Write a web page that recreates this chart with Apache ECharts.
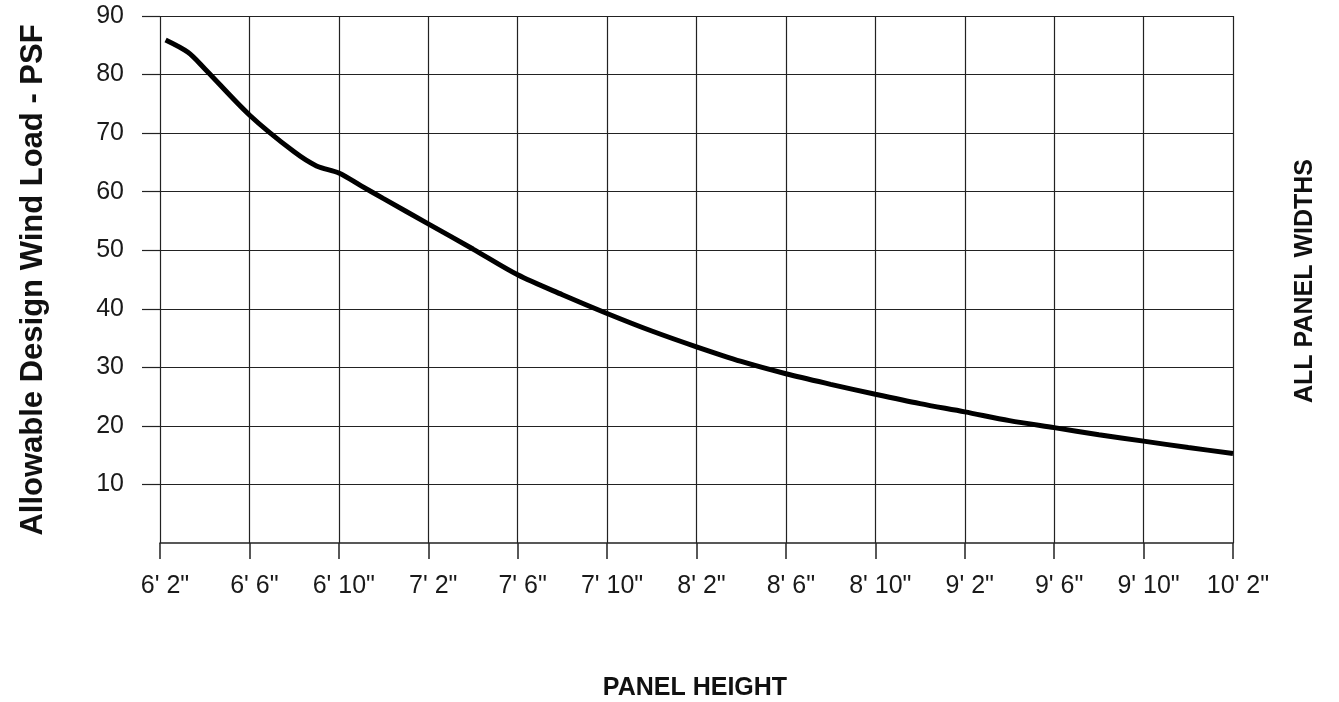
<!DOCTYPE html>
<html>
<head>
<meta charset="utf-8">
<script src="https://cdn.jsdelivr.net/npm/echarts@6/dist/echarts.min.js"></script>
<style>
  html, body { margin: 0; padding: 0; background: #fff; }
  #chart { width: 1339px; height: 702px; }
</style>
</head>
<body>
<div id="chart"></div>
<script>
// panel height in inches, allowable load in psf
var heightInches = [74.25, 75.25, 76, 78, 80, 81, 82, 83, 84, 86, 88, 90, 92, 94, 96, 98, 100, 102, 104, 106, 108, 110, 112, 114, 116, 118, 120, 122];
var windLoad = [85.9, 83.8, 81.0, 73.1, 66.8, 64.4, 63.2, 61.0, 58.8, 54.5, 50.2, 45.8, 42.4, 39.2, 36.2, 33.5, 31.0, 28.9, 27.1, 25.4, 23.8, 22.4, 20.9, 19.7, 18.5, 17.4, 16.3, 15.3];

var tickInches = [74, 78, 82, 86, 90, 94, 98, 102, 106, 110, 114, 118, 122];
var tickLabels = ["6' 2\"", "6' 6\"", "6' 10\"", "7' 2\"", "7' 6\"", "7' 10\"", "8' 2\"", "8' 6\"", "8' 10\"", "9' 2\"", "9' 6\"", "9' 10\"", "10' 2\""];
var yTicks = [10, 20, 30, 40, 50, 60, 70, 80, 90];

var lineCol = '#222';
var txtCol = '#1a1a1a';
var font = '"Liberation Sans", Arial, sans-serif';

var points = [];
for (var i = 0; i < heightInches.length; i++) {
  points.push([heightInches[i], windLoad[i]]);
}

var option = {
  animation: false,
  backgroundColor: '#fff',
  grid: {
    left: 160,
    right: 106,
    top: 16,
    bottom: 159,
    outerBoundsMode: 'none'
  },
  xAxis: {
    type: 'value',
    min: 74,
    max: 122,
    interval: 2,
    axisLine: { show: true, lineStyle: { color: lineCol, width: 1.5 } },
    axisTick: {
      show: true,
      customValues: tickInches,
      length: 16,
      lineStyle: { color: lineCol, width: 1.5 }
    },
    axisLabel: {
      customValues: tickInches,
      margin: 31,
      padding: [0, 0, 0, 10],
      color: txtCol,
      fontSize: 25,
      fontFamily: font,
      formatter: function (v) {
        var k = tickInches.indexOf(v);
        return k >= 0 ? tickLabels[k] : '';
      }
    },
    splitLine: { show: true, lineStyle: { color: lineCol, width: 1.2 } }
  },
  yAxis: {
    type: 'value',
    min: 0,
    max: 90,
    interval: 10,
    axisLine: { show: false },
    axisTick: {
      show: true,
      customValues: yTicks,
      length: 18,
      lineStyle: { color: lineCol, width: 1.2 }
    },
    axisLabel: {
      customValues: yTicks,
      margin: 36,
      color: txtCol,
      fontSize: 25,
      fontFamily: font
    },
    splitLine: { show: true, lineStyle: { color: lineCol, width: 1.2 } }
  },
  graphic: [
    {
      type: 'text',
      x: 33,
      y: 280,
      rotation: Math.PI / 2,
      style: {
        text: 'Allowable Design Wind Load - PSF',
        fill: '#111',
        font: 'bold 31px ' + font,
        align: 'center',
        verticalAlign: 'middle'
      }
    },
    {
      type: 'text',
      x: 1305,
      y: 281,
      rotation: Math.PI / 2,
      style: {
        text: 'ALL PANEL WIDTHS',
        fill: '#111',
        font: 'bold 25px ' + font,
        align: 'center',
        verticalAlign: 'middle'
      }
    },
    {
      type: 'text',
      x: 695,
      y: 688,
      style: {
        text: 'PANEL HEIGHT',
        fill: '#111',
        font: 'bold 25px ' + font,
        align: 'center',
        verticalAlign: 'middle'
      }
    }
  ],
  series: [
    {
      type: 'line',
      data: points,
      smooth: 0.3,
      symbol: 'none',
      lineStyle: { color: '#000', width: 5 },
      z: 5
    }
  ]
};

var myChart = echarts.init(document.getElementById('chart'));
myChart.setOption(option);
window.addEventListener('resize', function () {
  myChart.resize();
});
</script>
</body>
</html>
